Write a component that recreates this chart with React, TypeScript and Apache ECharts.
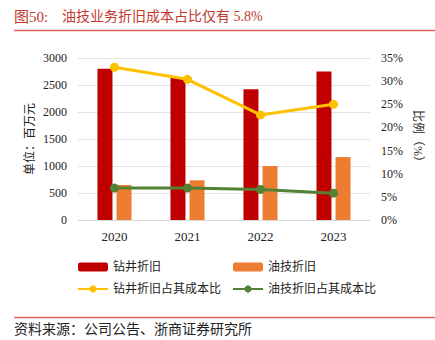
import React, { useEffect, useRef } from "react";
import * as echarts from "echarts";

const categories = ["2020", "2021", "2022", "2023"];
const drillingDep = [2800, 2640, 2420, 2750];
const oilTechDep = [650, 735, 1000, 1165];
const drillingRatio = [33.0, 30.4, 22.7, 25.0];
const oilTechRatio = [6.9, 6.9, 6.6, 5.8];
const titleText = "油技业务折旧成本占比仅有 5.8%";
const sourceText = "资料来源：公司公告、浙商证券研究所";

const FONT = "'Liberation Serif', 'Times New Roman', 'Noto Sans CJK SC', serif";

export default function App() {
  const ref = useRef<HTMLDivElement>(null);
  useEffect(() => {
    if (!ref.current) return;
    const chart = echarts.init(ref.current, undefined, { renderer: "svg" });
    chart.setOption({
      animation: false,
      backgroundColor: "#fff",
      textStyle: { fontFamily: FONT },
      grid: { left: 78, right: 65, top: 58, bottom: 120 },
      graphic: [
        { type: "text", left: 14, top: 9, style: { text: "图50:", fill: "#C0392B", font: "15px " + FONT } },
        { type: "text", left: 62, top: 9, style: { text: titleText, fill: "#C0392B", font: "14px " + FONT } },
        { type: "line", shape: { x1: 14, y1: 30.5, x2: 435, y2: 30.5 }, style: { stroke: "#E06666", lineWidth: 1.5 } },
        { type: "line", shape: { x1: 14, y1: 317.5, x2: 435, y2: 317.5 }, style: { stroke: "#E06666", lineWidth: 1.5 } },
        { type: "text", left: 14, top: 322, style: { text: sourceText, fill: "#222", font: "14px " + FONT } },
      ],
      legend: [
        {
          orient: "vertical",
          left: 72,
          top: 256,
          itemWidth: 30,
          itemHeight: 9,
          itemGap: 10,
          textStyle: { fontSize: 12, color: "#222", fontFamily: FONT },
          data: ["钻井折旧", "钻井折旧占其成本比"],
        },
        {
          orient: "vertical",
          left: 227,
          top: 256,
          itemWidth: 30,
          itemHeight: 9,
          itemGap: 10,
          textStyle: { fontSize: 12, color: "#222", fontFamily: FONT },
          data: ["油技折旧", "油技折旧占其成本比"],
        },
      ],
      xAxis: {
        type: "category",
        data: categories,
        axisLine: { lineStyle: { color: "#D9D9D9" } },
        axisTick: { show: false },
        axisLabel: { fontSize: 13, color: "#222", margin: 10, fontFamily: FONT },
      },
      yAxis: [
        {
          type: "value",
          min: 0,
          max: 3000,
          interval: 500,
          name: "单位：百万元",
          nameLocation: "middle",
          nameRotate: 90,
          nameGap: 42,
          nameMoveOverlap: false,
          nameTextStyle: { fontSize: 12, color: "#222", fontFamily: FONT },
          axisLabel: { fontSize: 12, color: "#222", margin: 11, fontFamily: FONT, formatter: (v: number) => String(v) },
          splitLine: { lineStyle: { color: "#E3E3E3" } },
          axisLine: { show: false },
          axisTick: { show: false },
        },
        {
          type: "value",
          min: 0,
          max: 35,
          interval: 5,
          name: "比例（%）",
          nameLocation: "middle",
          nameRotate: -90,
          nameGap: 42,
          nameMoveOverlap: false,
          nameTextStyle: { fontSize: 12, color: "#222", fontFamily: FONT },
          axisLabel: { fontSize: 12, color: "#222", margin: 11, formatter: "{value}%", fontFamily: FONT },
          splitLine: { show: false },
          axisLine: { show: false },
          axisTick: { show: false },
        },
      ],
      series: [
        {
          name: "钻井折旧",
          type: "bar",
          data: drillingDep,
          barWidth: 15,
          barGap: "27%",
          itemStyle: { color: "#C00000" },
        },
        {
          name: "油技折旧",
          type: "bar",
          data: oilTechDep,
          barWidth: 15,
          barGap: "27%",
          itemStyle: { color: "#ED7D31" },
        },
        {
          name: "钻井折旧占其成本比",
          type: "line",
          yAxisIndex: 1,
          data: drillingRatio,
          symbol: "circle",
          symbolSize: 9,
          lineStyle: { width: 3, color: "#FFC000" },
          itemStyle: { color: "#FFC000" },
        },
        {
          name: "油技折旧占其成本比",
          type: "line",
          yAxisIndex: 1,
          data: oilTechRatio,
          symbol: "circle",
          symbolSize: 9,
          lineStyle: { width: 3, color: "#548235" },
          itemStyle: { color: "#548235" },
        },
      ],
    });
    return () => chart.dispose();
  }, []);
  return <div ref={ref} style={{ position: "fixed", left: 0, top: 0, width: 435, height: 340 }} />;
}
